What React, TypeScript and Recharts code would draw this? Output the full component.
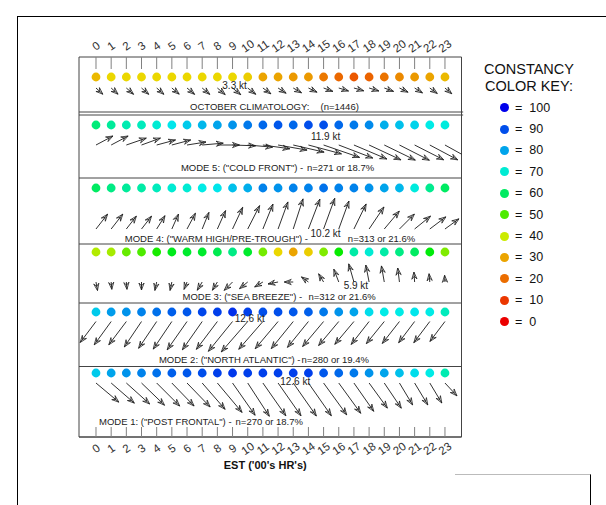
import React from 'react';
import { ComposedChart, Scatter, XAxis, YAxis, ReferenceLine, ReferenceArea } from 'recharts';

const HOURS = [0, 1, 2, 3, 4, 5, 6, 7, 8, 9, 10, 11, 12, 13, 14, 15, 16, 17, 18, 19, 20, 21, 22, 23];

// constancy colour key: level -> hue on the rainbow scale
const KEY_LEVELS = [100, 90, 80, 70, 60, 50, 40, 30, 20, 10, 0];
const KEY_HUES = [240, 220, 198, 174, 145, 100, 68, 42, 28, 14, 0];

// hourly constancy (%), wind direction (deg, blowing from) and mean speed (kt)
const climConstancy = [32, 35, 35, 35, 35, 35, 35, 35, 35, 35, 34, 30, 30, 28, 28, 22, 19, 16, 18, 21, 25, 28, 30, 32];
const climDir = [312, 312, 311, 311, 311, 310, 310, 310, 310, 309, 308, 306, 303, 300, 296, 290, 287, 286, 287, 290, 296, 302, 306, 310];
const climSpeed = [2.9, 2.9, 3.0, 3.0, 3.0, 3.0, 3.1, 3.1, 3.2, 3.3, 3.2, 3.1, 3.0, 3.0, 3.0, 3.1, 3.2, 3.2, 3.2, 3.1, 3.0, 2.9, 2.9, 2.8];

const m5Constancy = [62, 65, 67, 68, 70, 73, 76, 78, 80, 82, 85, 87, 89, 87, 90, 90, 87, 85, 83, 79, 77, 75, 72, 71];
const m5Dir = [242, 242, 251, 250, 255, 255, 261, 265, 270, 272, 275, 278, 280, 283, 285, 289, 291, 293, 295, 296, 297, 297, 298, 299];
const m5Speed = [6.0, 6.0, 6.6, 6.3, 6.1, 6.1, 6.0, 6.6, 6.9, 7.2, 7.8, 8.5, 9.2, 9.9, 10.7, 11.9, 11.4, 11.2, 11.0, 10.8, 10.5, 10.2, 9.9, 9.7];

const m4Constancy = [60, 63, 65, 66, 68, 70, 70, 72, 73, 77, 79, 84, 82, 84, 84, 86, 84, 84, 82, 80, 78, 71, 64, 60];
const m4Dir = [218, 218, 218, 218, 212, 204, 208, 202, 204, 205, 207, 202, 200, 198, 201, 200, 200, 206, 214, 220, 225, 231, 233, 234];
const m4Speed = [5.9, 5.9, 5.1, 5.1, 4.9, 5.1, 5.6, 5.6, 6.3, 7.5, 8.2, 8.4, 9.0, 9.9, 10.0, 10.2, 9.3, 8.7, 8.3, 7.3, 6.6, 6.4, 6.3, 5.4];

const m3Constancy = [42, 43, 48, 50, 53, 56, 57, 57, 59, 63, 57, 47, 35, 30, 34, 46, 54, 66, 70, 66, 63, 60, 55, 46];
const m3Dir = [350, 355, 355, 360, 12, 12, 22, 31, 31, 45, 51, 59, 79, 90, 126, 149, 159, 164, 169, 170, 173, 176, 175, 177];
const m3Speed = [2.7, 2.3, 2.3, 2.5, 2.7, 2.7, 2.5, 3.0, 3.0, 3.7, 3.3, 3.0, 3.2, 2.8, 2.7, 3.0, 4.3, 5.9, 5.4, 5.1, 4.4, 3.1, 2.6, 2.1];

const m2Constancy = [76, 81, 82, 84, 86, 88, 89, 91, 92, 94, 92, 90, 90, 89, 88, 85, 82, 80, 74, 72, 72, 73, 72, 68];
const m2Dir = [37, 36, 37, 34, 34, 34, 35, 35, 37, 39, 41, 41, 40, 39, 39, 40, 40, 40, 38, 39, 38, 37, 37, 37];
const m2Speed = [8.2, 9.0, 9.1, 9.6, 10.1, 10.4, 10.8, 10.8, 10.9, 12.0, 12.6, 11.5, 11.1, 10.9, 10.4, 10.2, 9.8, 9.3, 9.1, 8.9, 8.7, 8.3, 8.3, 7.8];

const m1Constancy = [76, 80, 82, 84, 86, 88, 89, 90, 92, 93, 92, 92, 92, 92, 92, 89, 87, 85, 82, 80, 77, 74, 72, 67];
const m1Dir = [310, 311, 312, 314, 315, 316, 316, 319, 320, 325, 327, 325, 325, 325, 325, 324, 324, 325, 324, 326, 329, 329, 329, 317];
const m1Speed = [9.3, 9.6, 9.8, 10.0, 10.2, 10.0, 10.4, 10.9, 12.0, 12.3, 12.4, 12.5, 12.5, 12.6, 12.5, 12.3, 11.7, 10.8, 9.7, 9.5, 8.0, 8.0, 7.3, 5.5];

const panels = [
  { id: 'clim', title: 'OCTOBER CLIMATOLOGY:', stats: '(n=1446)', constancy: climConstancy, dir: climDir, speed: climSpeed },
  { id: 'm5', title: 'MODE 5: ("COLD FRONT") -', stats: 'n=271 or 18.7%', constancy: m5Constancy, dir: m5Dir, speed: m5Speed },
  { id: 'm4', title: 'MODE 4: ("WARM HIGH/PRE-TROUGH") -', stats: 'n=313 or 21.6%', constancy: m4Constancy, dir: m4Dir, speed: m4Speed },
  { id: 'm3', title: 'MODE 3: ("SEA BREEZE") -', stats: 'n=312 or 21.6%', constancy: m3Constancy, dir: m3Dir, speed: m3Speed },
  { id: 'm2', title: 'MODE 2: ("NORTH ATLANTIC") -', stats: 'n=280 or 19.4%', constancy: m2Constancy, dir: m2Dir, speed: m2Speed },
  { id: 'm1', title: 'MODE 1: ("POST FRONTAL") -', stats: 'n=270 or 18.7%', constancy: m1Constancy, dir: m1Dir, speed: m1Speed },
];

// vertical layout of each strip in plot units (0 = top of frame, 380 = bottom)
const LAYOUT: Record<string, any> = {
  clim: { bottom: 55, dotY: 20, tailY: 31, textY: 52.5, titleX: 6.2, statsX: 14.8, labelDy: 1 },
  m5: { bottom: 121, dotY: 68, tailY: 88, textY: 114, titleX: 5.6, statsX: 13.9, labelDy: -5 },
  m4: { bottom: 187, dotY: 131, tailY: 172, textY: 184.5, titleX: 1.9, statsX: 16.6, labelDy: 8 },
  m3: { bottom: 246, dotY: 195, tailY: 225, textY: 242.5, titleX: 5.7, statsX: 14.0, labelDy: 7 },
  m2: { bottom: 309.5, dotY: 255, tailY: 264.5, textY: 305.5, titleX: 4.15, statsX: 13.55, labelDy: 0 },
  m1: { bottom: 380, dotY: 316, tailY: 326, textY: 367.5, titleX: 0.2, statsX: 9.2, labelDy: 2 },
};

const X_DOMAIN = [-1.12, 24.09];
const PX_PER_KT = 3.2;
const FONT = '"Liberation Sans", Arial, sans-serif';

const hueColor = (h: number) => `hsl(${h.toFixed(1)}, 100%, 46%)`;

function constancyColor(v: number) {
  for (let i = 0; i < KEY_LEVELS.length - 1; i++) {
    const hi = KEY_LEVELS[i];
    const lo = KEY_LEVELS[i + 1];
    if (v <= hi && v >= lo) {
      const t = (v - lo) / (hi - lo);
      return hueColor(KEY_HUES[i + 1] + (KEY_HUES[i] - KEY_HUES[i + 1]) * t);
    }
  }
  return hueColor(KEY_HUES[0]);
}

const dotData = panels.flatMap((p) =>
  HOURS.map((h, i) => ({ hour: h, y: LAYOUT[p.id].dotY, color: constancyColor(p.constancy[i]) }))
);

const arrowData = panels.flatMap((p) => {
  const max = Math.max(...p.speed);
  const maxIdx = p.speed.indexOf(max);
  return HOURS.map((h, i) => ({
    hour: h,
    y: LAYOUT[p.id].tailY,
    dir: p.dir[i],
    speed: p.speed[i],
    isMax: i === maxIdx,
    labelDy: LAYOUT[p.id].labelDy,
  }));
});

const textData = panels.flatMap((p) => [
  { hour: LAYOUT[p.id].titleX, y: LAYOUT[p.id].textY, text: p.title },
  { hour: LAYOUT[p.id].statsX, y: LAYOUT[p.id].textY, text: p.stats },
]);

const Dot = (props: any) => <circle cx={props.cx} cy={props.cy} r={4.4} fill={props.payload.color} />;

const Arrow = (props: any) => {
  const { cx, cy, payload } = props;
  const len = payload.speed * PX_PER_KT;
  const to = ((payload.dir + 180) * Math.PI) / 180;
  const ux = Math.sin(to);
  const uy = -Math.cos(to);
  const tx = cx + ux * len;
  const ty = cy + uy * len;
  const head = 7;
  const half = 2.6;
  const notch = 4.2;
  const bx = tx - ux * head;
  const by = ty - uy * head;
  const nx = tx - ux * notch;
  const ny = ty - uy * notch;
  const px = -uy;
  const py = ux;
  const d = `M${bx + px * half},${by + py * half} L${tx},${ty} L${bx - px * half},${by - py * half} M${bx + px * half},${by + py * half} L${nx},${ny} L${bx - px * half},${by - py * half}`;
  return (
    <g>
      <line x1={cx} y1={cy} x2={tx} y2={ty} stroke="#1a1a1a" strokeWidth={0.9} />
      <path d={d} fill="none" stroke="#1a1a1a" strokeWidth={0.8} />
      {payload.isMax && (
        <text x={cx + 2} y={cy + payload.labelDy} textAnchor="middle" fontSize={10} fontFamily={FONT} fill="#222">
          {`${payload.speed.toFixed(1)} kt`}
        </text>
      )}
    </g>
  );
};

const PanelText = (props: any) => (
  <text x={props.cx} y={props.cy} fontSize={9.5} fontFamily={FONT} fill="#222">
    {props.payload.text}
  </text>
);

const HourTick = (props: any) => {
  const { x, y, payload, side } = props;
  const inward = side === 'top' ? 12 : -10;
  const ly = side === 'top' ? y - 11 : y + 11.5;
  return (
    <g>
      <line x1={x} x2={x} y1={y} y2={y + inward} stroke="#808080" />
      <text
        x={x}
        y={ly}
        transform={`rotate(-35 ${x} ${ly})`}
        textAnchor="middle"
        dominantBaseline="central"
        fontSize={11.5}
        fontFamily={FONT}
        fill="#333"
      >
        {payload.value}
      </text>
    </g>
  );
};

const AxisTitle = (props: any) => {
  const vb = props.viewBox;
  return (
    <text x={vb.x + vb.width / 2 - 5} y={vb.y + 32} textAnchor="middle" fontSize={11} fontWeight="bold" fontFamily={FONT} fill="#111">
      EST ('00's HR's)
    </text>
  );
};

const ColorKey = () => (
  <div style={{ position: 'absolute', left: 474, top: 61, width: 110, fontFamily: FONT, color: '#111' }}>
    <div style={{ fontSize: 14.5, lineHeight: '17px', textAlign: 'center' }}>CONSTANCY</div>
    <div style={{ fontSize: 14.5, lineHeight: '17px', textAlign: 'center' }}>COLOR KEY:</div>
    <div style={{ marginTop: 2 }}>
      {KEY_LEVELS.map((lv, i) => (
        <div key={lv} style={{ height: 21.4, display: 'flex', alignItems: 'center', fontSize: 12.5 }}>
          <span style={{ display: 'inline-block', width: 9, height: 9, borderRadius: '50%', background: hueColor(KEY_HUES[i]), marginLeft: 26, marginRight: 6 }} />
          <span style={{ whiteSpace: 'pre' }}>{`=  ${lv}`}</span>
        </div>
      ))}
    </div>
  </div>
);

export default function App() {
  return (
    <div style={{ position: 'absolute', left: 0, top: 0, width: 606, height: 505, background: '#fff', overflow: 'hidden' }}>
      <div style={{ position: 'absolute', left: 17, top: 16, width: 600, height: 500, borderLeft: '1px solid #000', borderTop: '1px solid #000' }} />
      <div style={{ position: 'absolute', left: 455, top: 474, width: 135, height: 40, borderTop: '1px solid #bbb', borderRight: '1px solid #000' }} />
      <div style={{ position: 'absolute', left: 0, top: 0 }}>
        <ComposedChart width={606} height={505} margin={{ top: 27, right: 144.5, bottom: 38, left: 79 }}>
          <XAxis
            xAxisId="t"
            orientation="top"
            type="number"
            dataKey="hour"
            domain={X_DOMAIN}
            allowDataOverflow
            ticks={HOURS}
            interval={0}
            height={30}
            tickSize={0}
            tickMargin={0}
            axisLine={false}
            tickLine={false}
            tick={<HourTick side="top" />}
          />
          <XAxis
            xAxisId="b"
            orientation="bottom"
            type="number"
            dataKey="hour"
            domain={X_DOMAIN}
            allowDataOverflow
            ticks={HOURS}
            interval={0}
            height={30}
            tickSize={0}
            tickMargin={0}
            axisLine={false}
            tickLine={false}
            tick={<HourTick side="bottom" />}
            label={<AxisTitle />}
          />
          <YAxis type="number" domain={[0, 380]} reversed hide allowDataOverflow />
          <ReferenceArea xAxisId="b" x1={X_DOMAIN[0]} x2={X_DOMAIN[1]} y1={0} y2={380} fill="none" stroke="#444" strokeWidth={1} ifOverflow="visible" />
          <ReferenceLine
            xAxisId="b"
            segment={[{ x: X_DOMAIN[0], y: 58 }, { x: 24.2, y: 58 }]}
            stroke="#444"
            ifOverflow="visible"
          />
          {panels.map((p) => (
            <ReferenceLine
              key={p.id}
              xAxisId="b"
              segment={[{ x: X_DOMAIN[0], y: LAYOUT[p.id].bottom }, { x: p.id === 'clim' ? 24.2 : X_DOMAIN[1], y: LAYOUT[p.id].bottom }]}
              stroke="#444"
              ifOverflow="visible"
            />
          ))}
          <Scatter xAxisId="b" data={dotData} dataKey="y" shape={<Dot />} isAnimationActive={false} />
          <Scatter xAxisId="b" data={arrowData} dataKey="y" shape={<Arrow />} isAnimationActive={false} />
          <Scatter xAxisId="b" data={textData} dataKey="y" shape={<PanelText />} isAnimationActive={false} />
        </ComposedChart>
      </div>
      <ColorKey />
    </div>
  );
}
